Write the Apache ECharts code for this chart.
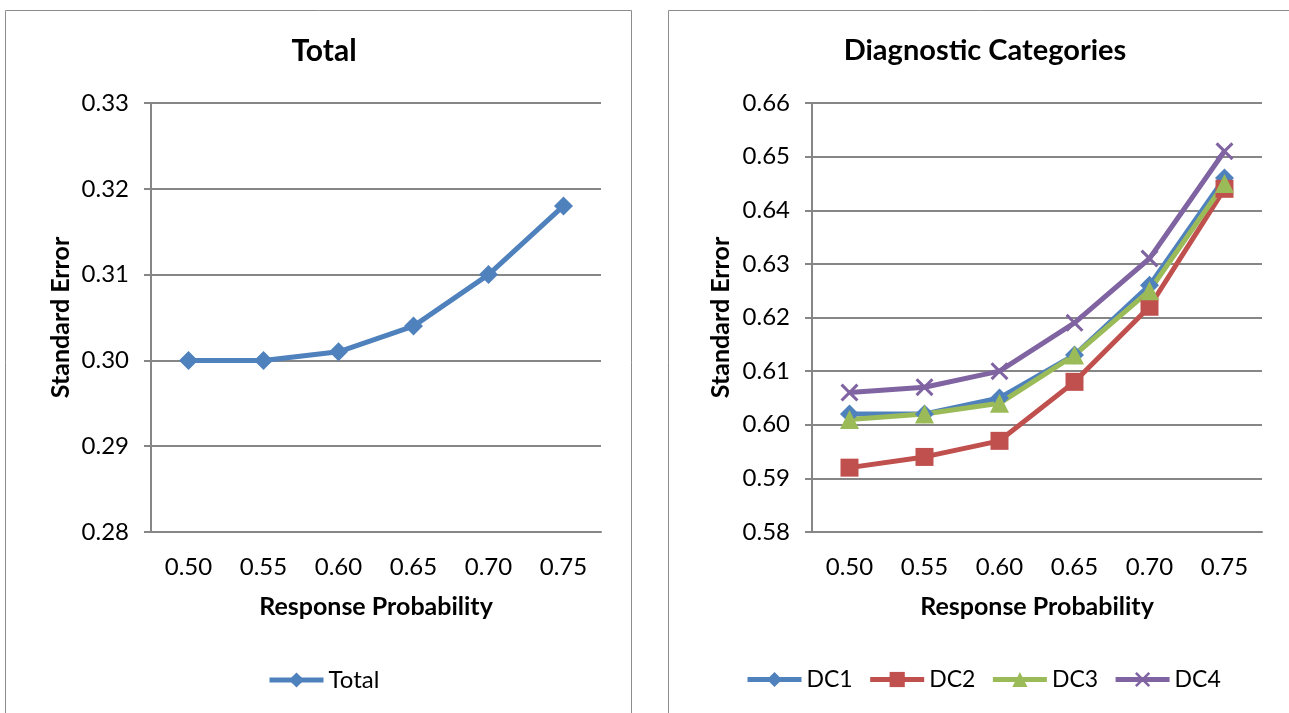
<!DOCTYPE html>
<html>
<head>
<meta charset="utf-8">
<script src="https://cdn.jsdelivr.net/npm/echarts@6/dist/echarts.min.js"></script>
<style>
html,body{margin:0;padding:0;background:#fff;}
#c{width:1289px;height:713px;}
</style>
</head>
<body>
<div id="c"></div>
<script>
const categories = ['0.50','0.55','0.60','0.65','0.70','0.75'];
const totalValues = [0.300, 0.300, 0.301, 0.304, 0.310, 0.318];
const dc1 = [0.602, 0.602, 0.605, 0.613, 0.626, 0.646];
const dc2 = [0.592, 0.594, 0.597, 0.608, 0.622, 0.644];
const dc3 = [0.601, 0.602, 0.604, 0.613, 0.625, 0.645];
const dc4 = [0.606, 0.607, 0.610, 0.619, 0.631, 0.651];

const FONT = 'Lato, "Open Sans", sans-serif';
const GRIDC = '#868686';
const XPATH = 'path://M0,1.2L1.2,0L5,3.8L8.8,0L10,1.2L6.2,5L10,8.8L8.8,10L5,6.2L1.2,10L0,8.8L3.8,5Z';

function xAxis(gi){
  return {
    type:'category', gridIndex:gi, data:categories, boundaryGap:true,
    axisLine:{show:true,lineStyle:{color:GRIDC,width:2}},
    axisTick:{show:false},
    axisLabel:{color:'#000',fontSize:24,fontFamily:FONT,margin:23},
    name:'Response Probability', nameLocation:'middle', nameGap:62,
    nameTextStyle:{color:'#000',fontSize:25,fontWeight:'bold',fontFamily:FONT}
  };
}
function yAxis(gi,min,max,gap){
  return {
    type:'value', gridIndex:gi, min:min, max:max, interval:0.01,
    axisLine:{show:true,lineStyle:{color:GRIDC,width:2}},
    axisTick:{show:true,inside:false,length:7,lineStyle:{color:GRIDC,width:2}},
    splitLine:{show:true,lineStyle:{color:GRIDC,width:2}},
    axisLabel:{color:'#000',fontSize:24,fontFamily:FONT,margin:22,formatter:v=>v.toFixed(2)},
    name:'Standard Error', nameLocation:'middle', nameGap:gap, nameRotate:90,
    nameTextStyle:{color:'#000',fontSize:25,fontWeight:'bold',fontFamily:FONT}
  };
}
function line(name,data,color,symbol,size,gi){
  return {
    name:name, type:'line', data:data, xAxisIndex:gi, yAxisIndex:gi,
    symbol:symbol, symbolSize:size, showSymbol:true,
    lineStyle:{color:color,width:5},
    itemStyle:{color:color},
    emphasis:{disabled:true},
    animation:false
  };
}

const chart = echarts.init(document.getElementById('c'));
chart.setOption({
  backgroundColor:'#fff',
  animation:false,
  title:[
    {text:'Total',left:319,top:31,textAlign:'center',textStyle:{fontSize:30,fontWeight:'bold',color:'#000',fontFamily:FONT}},
    {text:'Diagnostic Categories',left:980,top:31,textAlign:'center',textStyle:{fontSize:29,fontWeight:'bold',color:'#000',fontFamily:FONT}}
  ],
  legend:[
    {data:['Total'],left:267,top:668,padding:0,itemWidth:54,itemHeight:19,itemGap:20,lineStyle:{width:5},textStyle:{fontSize:24,color:'#000',fontFamily:FONT}},
    {data:['DC1','DC2','DC3','DC4'],left:745,top:668,padding:0,itemWidth:54,itemHeight:19,itemGap:15,lineStyle:{width:5},textStyle:{fontSize:23,color:'#000',fontFamily:FONT}}
  ],
  grid:[
    {left:151,right:1289-601,top:103,bottom:713-532,containLabel:false},
    {left:812,right:1289-1262,top:103,bottom:713-532,containLabel:false}
  ],
  xAxis:[xAxis(0),xAxis(1)],
  yAxis:[yAxis(0,0.28,0.33,78),yAxis(1,0.58,0.66,79)],
  graphic:[
    {type:'rect',shape:{x:5.5,y:10.5,width:626,height:720},style:{fill:'none',stroke:'#8c8c8c',lineWidth:1}},
    {type:'rect',shape:{x:668.5,y:10.5,width:700,height:720},style:{fill:'none',stroke:'#8c8c8c',lineWidth:1}}
  ],
  series:[
    line('Total',totalValues,'#4F81BD','diamond',19,0),
    line('DC1',dc1,'#4F81BD','diamond',19,1),
    line('DC2',dc2,'#C0504D','rect',18,1),
    line('DC3',dc3,'#9BBB59','triangle',19,1),
    line('DC4',dc4,'#8064A2',XPATH,18,1)
  ]
});
</script>
</body>
</html>
